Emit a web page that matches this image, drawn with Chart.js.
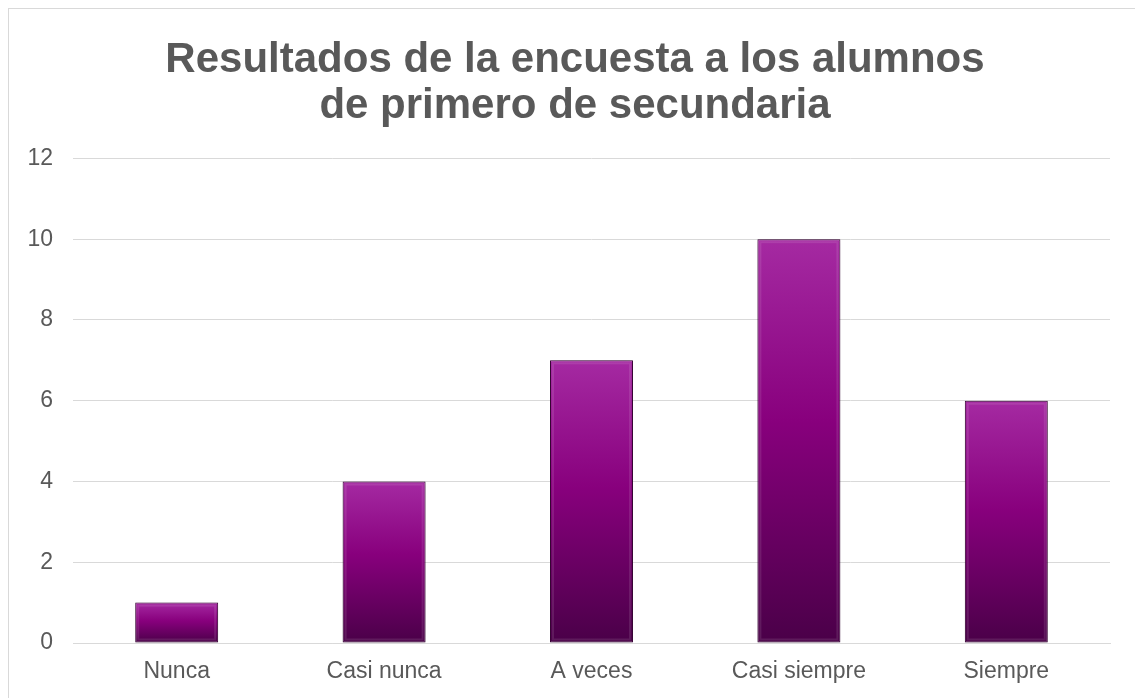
<!DOCTYPE html>
<html>
<head>
<meta charset="utf-8">
<script src="https://cdn.jsdelivr.net/npm/chart.js@4/dist/chart.umd.min.js"></script>
<style>
  html, body { margin: 0; padding: 0; background: #fff; }
  #frame {
    position: absolute; left: 8px; top: 8px; width: 1140px; height: 700px;
    border: 1px solid #d9d9d9; box-sizing: border-box;
  }
  #wrap { position: absolute; left: 0; top: 0; width: 1135px; height: 698px; }
</style>
</head>
<body>
<div id="frame"></div>
<div id="wrap"><canvas id="myChart"></canvas></div>
<script>
// survey data
const categories = ['Nunca', 'Casi nunca', 'A veces', 'Casi siempre', 'Siempre'];
const answers = [1, 4, 7, 10, 6];
const yTicks = [0, 2, 4, 6, 8, 10, 12];
const titleLines = ['Resultados de la encuesta a los alumnos', 'de primero de secundaria'];

const textGray = '#595959';
const fontName = 'Liberation Sans, Arial, sans-serif';

// gradient for each bar, light on top and dark at the base
function barGradient(context) {
  const chart = context.chart;
  if (!chart.chartArea) return '#8b0080';
  const y = chart.scales.y;
  const top = y.getPixelForValue(context.raw);
  const bottom = y.getPixelForValue(0);
  const g = chart.ctx.createLinearGradient(0, top, 0, bottom);
  g.addColorStop(0, '#a52aa2');
  g.addColorStop(0.45, '#88007d');
  g.addColorStop(1, '#4a0048');
  return g;
}

// soft shadow + little bevel on the bars
const barLook = {
  id: 'barLook',
  afterLayout(chart) {
    // title sits a bit right of the plot center in the original
    chart.titleBlock.left += 20;
    chart.titleBlock.right += 20;
  },
  beforeDatasetsDraw(chart) {
    const ctx = chart.ctx;
    ctx.save();
    ctx.shadowColor = 'rgba(0,0,0,0.25)';
    ctx.shadowBlur = 6;
    ctx.shadowOffsetX = 0;
    ctx.shadowOffsetY = 1;
  },
  afterDatasetsDraw(chart) {
    const ctx = chart.ctx;
    ctx.restore();
    chart.getDatasetMeta(0).data.forEach(function(bar) {
      const left = bar.x - bar.width / 2;
      const w = bar.width;
      const h = bar.base - bar.y;
      ctx.save();
      ctx.strokeStyle = 'rgba(255,255,255,0.1)';
      ctx.lineWidth = 2;
      ctx.strokeRect(left + 3, bar.y + 3, w - 6, h - 6);
      ctx.restore();
    });
  }
};

const ctx = document.getElementById('myChart').getContext('2d');
const myChart = new Chart(ctx, {
  type: 'bar',
  data: {
    labels: categories,
    datasets: [{
      data: answers,
      backgroundColor: barGradient,
      borderColor: '#3a0038',
      borderWidth: 1,
      borderSkipped: false,
      barPercentage: 0.4,
      categoryPercentage: 1
    }]
  },
  options: {
    responsive: true,
    maintainAspectRatio: false,
    animation: false,
    layout: { padding: { top: 37, right: 25, bottom: 0, left: 0 } },
    plugins: {
      legend: { display: false },
      tooltip: { enabled: false },
      title: {
        display: true,
        text: titleLines,
        color: textGray,
        font: { family: fontName, size: 42, weight: 'bold', lineHeight: 1.1 },
        padding: { top: 0, bottom: 29 }
      }
    },
    scales: {
      x: {
        grid: { display: false },
        border: { color: '#d9d9d9', width: 1 },
        ticks: {
          color: textGray,
          font: { family: fontName, size: 23 },
          padding: 7
        },
        afterFit: function(scale) { scale.height = 55; }
      },
      y: {
        min: 0,
        max: 12,
        afterBuildTicks: function(scale) {
          scale.ticks = yTicks.map(function(v) { return { value: v }; });
        },
        grid: { color: '#d9d9d9', lineWidth: 1, drawTicks: false },
        border: { display: false },
        ticks: {
          color: textGray,
          font: { family: fontName, size: 23 },
          padding: 20
        },
        afterFit: function(scale) { scale.width = 73; }
      }
    }
  },
  plugins: [barLook]
});
</script>
</body>
</html>
